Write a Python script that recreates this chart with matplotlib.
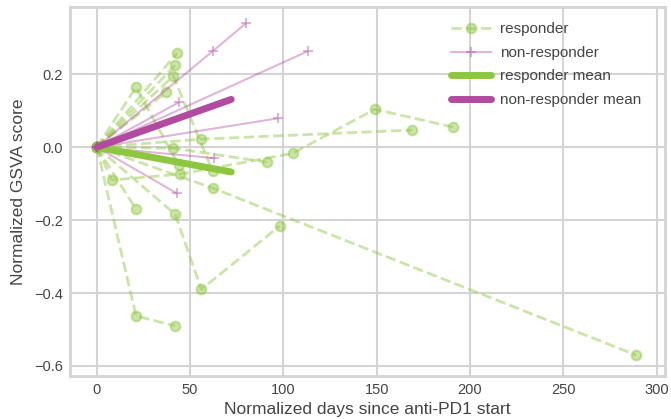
import matplotlib.pyplot as plt

plt.rcParams['font.family'] = ['Liberation Sans', 'DejaVu Sans']

GREEN = '#8dc63f'
PURPLE = '#b24a9f'

# responder trajectories (days, score)
resp_days = [
    [0, 21, 44],
    [0, 43],
    [0, 42],
    [0, 41, 62],
    [0, 37],
    [0, 56, 169],
    [0, 41, 91],
    [0, 8, 44.5, 105, 149, 191],
    [0, 21],
    [0, 42, 56, 98],
    [0, 21, 42],
    [0, 62, 289],
]
resp_scores = [
    [0, 0.164, -0.05],
    [0, 0.258],
    [0, 0.225],
    [0, 0.195, -0.065],
    [0, 0.150],
    [0, 0.022, 0.047],
    [0, -0.003, -0.041],
    [0, -0.09, -0.074, -0.017, 0.104, 0.055],
    [0, -0.17],
    [0, -0.184, -0.39, -0.216],
    [0, -0.463, -0.49],
    [0, -0.112, -0.57],
]

# non-responder trajectories
nonresp_days = [
    [0, 62, 80],
    [0, 113],
    [0, 44],
    [0, 97],
    [0, 63],
    [0, 43],
]
nonresp_scores = [
    [0, 0.263, 0.34],
    [0, 0.263],
    [0, 0.123],
    [0, 0.079],
    [0, -0.03],
    [0, -0.127],
]

mean_days = [0, 72]
resp_mean = [0, -0.068]
nonresp_mean = [0, 0.131]

fig = plt.figure(figsize=(6.71, 4.19), dpi=100)
ax = fig.add_axes([0.104, 0.103, 0.887, 0.880])

for i, (d, s) in enumerate(zip(resp_days, resp_scores)):
    ax.plot(d, s, ls='--', lw=2, color=GREEN, alpha=0.45, marker='o', ms=7,
            mew=1.5, label='responder' if i == 0 else None, zorder=2)

for i, (d, s) in enumerate(zip(nonresp_days, nonresp_scores)):
    ax.plot(d, s, ls='-', lw=1.5, color=PURPLE, alpha=0.4, marker='+', ms=7,
            mew=1.5, label='non-responder' if i == 0 else None, zorder=3)

ax.plot(mean_days, resp_mean, lw=5, color=GREEN, solid_capstyle='round',
        label='responder mean', zorder=4)
ax.plot(mean_days, nonresp_mean, lw=5, color=PURPLE, solid_capstyle='round',
        label='non-responder mean', zorder=5)

ax.set_xlim(-14.5, 304.5)
ax.set_ylim(-0.627, 0.384)
ax.set_xticks([0, 50, 100, 150, 200, 250, 300])
ax.set_yticks([-0.6, -0.4, -0.2, 0.0, 0.2])

ax.grid(True, color='#d4d4d4', lw=1.5)
ax.set_axisbelow(True)
for sp in ax.spines.values():
    sp.set_color('#d4d4d4')
    sp.set_linewidth(2)
ax.tick_params(length=0, labelsize=10.5, labelcolor='#444444', pad=5)

ax.set_xlabel('Normalized days since anti-PD1 start', fontsize=12.5,
              color='#444444', labelpad=4)
ax.set_ylabel('Normalized GSVA score', fontsize=12.5, color='#444444',
              labelpad=6)

leg = ax.legend(loc='upper right', bbox_to_anchor=(0.97, 0.975),
                frameon=False, fontsize=11, handlelength=2.6,
                handletextpad=0.6, borderaxespad=0.0, labelspacing=0.62)
for t in leg.get_texts():
    t.set_color('#444444')

fig.savefig('out.png', dpi=100)
